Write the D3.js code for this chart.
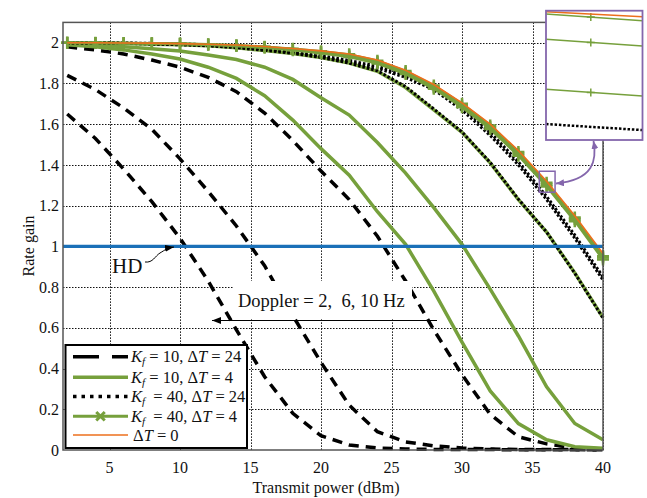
<!DOCTYPE html>
<html>
<head>
<meta charset="utf-8">
<script src="https://cdn.jsdelivr.net/npm/d3@7"></script>
<style>
  body { margin: 0; background: #fff; }
  svg text { font-family: "Liberation Serif", "Times New Roman", serif; fill: #111; white-space: pre; }
</style>
</head>
<body>
<svg id="chart" width="647" height="498"></svg>
<script>
// ---- data ----
const power = [2, 4, 6, 8, 10, 12, 14, 16, 18, 20, 22, 24, 26, 28, 30, 32, 34, 36, 38, 40];

// Kf = 10, dT = 24 (dashed), Doppler 10 / 6 / 2 Hz
const kf10dt24Dop10 = [1.65, 1.53, 1.38, 1.22, 1.04, 0.83, 0.59, 0.36, 0.18, 0.07, 0.025, 0.01, 0.005, 0.003, 0.002, 0.002, 0.001, 0.001, 0.001, 0.001];
const kf10dt24Dop6 = [1.84, 1.77, 1.68, 1.575, 1.43, 1.27, 1.10, 0.905, 0.66, 0.43, 0.22, 0.09, 0.04, 0.02, 0.01, 0.005, 0.003, 0.002, 0.002, 0.001];
const kf10dt24Dop2 = [1.98, 1.965, 1.945, 1.915, 1.88, 1.83, 1.76, 1.655, 1.52, 1.37, 1.23, 1.05, 0.83, 0.59, 0.37, 0.175, 0.065, 0.03, 0.01, 0.005];

// Kf = 10, dT = 4 (green solid)
const kf10dt4Dop10 = [1.99, 1.98, 1.965, 1.945, 1.92, 1.88, 1.825, 1.74, 1.62, 1.48, 1.35, 1.17, 1.01, 0.78, 0.53, 0.29, 0.13, 0.05, 0.016, 0.008];
const kf10dt4Dop6 = [1.995, 1.99, 1.98, 1.97, 1.96, 1.94, 1.918, 1.88, 1.82, 1.73, 1.645, 1.51, 1.36, 1.19, 1.01, 0.79, 0.56, 0.31, 0.13, 0.05];
const kf10dt4Dop2 = [1.999, 1.998, 1.996, 1.993, 1.99, 1.985, 1.975, 1.962, 1.947, 1.927, 1.90, 1.86, 1.78, 1.67, 1.56, 1.41, 1.23, 1.07, 0.87, 0.65];

// Kf = 40, dT = 24 (dotted)
const kf40dt24Dop10 = [2.0, 1.999, 1.997, 1.994, 1.99, 1.985, 1.976, 1.963, 1.948, 1.928, 1.90, 1.862, 1.785, 1.675, 1.562, 1.412, 1.232, 1.07, 0.868, 0.648];
const kf40dt24Dop6 = [2.0, 1.999, 1.998, 1.996, 1.993, 1.988, 1.98, 1.968, 1.952, 1.93, 1.905, 1.875, 1.83, 1.77, 1.67, 1.545, 1.40, 1.23, 1.04, 0.835];
const kf40dt24Dop2 = [2.0, 2.0, 1.999, 1.997, 1.995, 1.99, 1.983, 1.972, 1.957, 1.937, 1.913, 1.884, 1.842, 1.783, 1.685, 1.56, 1.415, 1.245, 1.055, 0.85];

// Kf = 40, dT = 4 (green with markers)
const kf40dt4Dop10 = [2.0, 1.999, 1.998, 1.996, 1.994, 1.99, 1.984, 1.975, 1.963, 1.948, 1.93, 1.898, 1.846, 1.774, 1.683, 1.576, 1.445, 1.294, 1.124, 0.935];
const kf40dt4Dop6 = [2.0, 1.999, 1.998, 1.997, 1.995, 1.992, 1.987, 1.979, 1.968, 1.955, 1.938, 1.906, 1.854, 1.782, 1.691, 1.585, 1.455, 1.303, 1.134, 0.945];
const kf40dt4Dop2 = [2.0, 2.0, 1.999, 1.998, 1.996, 1.993, 1.988, 1.981, 1.971, 1.958, 1.943, 1.912, 1.861, 1.79, 1.70, 1.594, 1.463, 1.312, 1.142, 0.952];

// dT = 0 (orange) and half duplex reference
const dt0 = [2.0, 2.0, 1.999, 1.998, 1.996, 1.993, 1.989, 1.982, 1.972, 1.96, 1.945, 1.915, 1.865, 1.795, 1.705, 1.60, 1.47, 1.32, 1.15, 0.965];
const halfDuplex = [1, 1];
const halfDuplexX = [1.7, 40];

// zoomed inset (schematic magnification around 36 dBm)
const insetX = [35.48, 36.6];
const insetYRange = [1.266, 1.369];
const insetDt0 = [1.3682, 1.3642];
const insetKf40dt4 = [[1.3664, 1.3610], [1.3462, 1.3409], [1.3064, 1.3010]];
const insetKf40dt24 = [1.2787, 1.2739];
const insetMarkerX = 36.0;

const xTicks = [5, 10, 15, 20, 25, 30, 35, 40];
const yTicks = [0, 0.2, 0.4, 0.6, 0.8, 1, 1.2, 1.4, 1.6, 1.8, 2];

// ---- colors ----
const GREEN = '#76a03c';
const ORANGE = '#ec6f1c';
const BLUE = '#1a70b8';
const PURPLE = '#8466ac';

const svg = d3.select('#chart');
const plotL = 63, plotR = 603, plotT = 22.4, plotB = 450;

const x = d3.scaleLinear().domain([1.7, 40]).range([plotL, plotR]);
const y = d3.scaleLinear().domain([0, 2.1]).range([plotB, plotT]);
const crisp = (v) => Math.round(v) + 0.5;

const defs = svg.append('defs');
function arrowHead(id, color, len, half) {
  defs.append('marker')
    .attr('id', id)
    .attr('viewBox', `0 ${-half} ${len} ${2 * half}`)
    .attr('refX', len)
    .attr('refY', 0)
    .attr('markerUnits', 'userSpaceOnUse')
    .attr('markerWidth', len)
    .attr('markerHeight', 2 * half)
    .attr('orient', 'auto-start-reverse')
    .append('path')
    .attr('d', `M0,${-half}L${len},0L0,${half}Z`)
    .attr('fill', color);
}
arrowHead('arrBlack', '#000', 9, 3.5);
arrowHead('arrPurple', PURPLE, 8, 3.5);

// Grid
const grid = svg.append('g')
  .attr('stroke', '#111')
  .attr('stroke-width', 1)
  .attr('stroke-dasharray', '1.5,1.5');
grid.selectAll('line.vx')
  .data(xTicks)
  .join('line')
  .attr('class', 'vx')
  .attr('x1', (d) => crisp(x(d))).attr('x2', (d) => crisp(x(d)))
  .attr('y1', plotT).attr('y2', plotB);
grid.selectAll('line.hy')
  .data(yTicks.slice(1))
  .join('line')
  .attr('class', 'hy')
  .attr('x1', plotL).attr('x2', plotR)
  .attr('y1', (d) => crisp(y(d))).attr('y2', (d) => crisp(y(d)));

// Tick labels
svg.append('g')
  .selectAll('text')
  .data(xTicks)
  .join('text')
  .attr('x', (d) => x(d))
  .attr('y', 473)
  .attr('text-anchor', 'middle')
  .attr('font-size', 16)
  .text((d) => d);
svg.append('g')
  .selectAll('text')
  .data(yTicks)
  .join('text')
  .attr('x', 59)
  .attr('y', (d) => y(d))
  .attr('dy', '0.35em')
  .attr('text-anchor', 'end')
  .attr('font-size', 16)
  .text((d) => d3.format('~g')(d));

svg.append('text')
  .attr('x', 326)
  .attr('y', 493)
  .attr('text-anchor', 'middle')
  .attr('font-size', 16)
  .text('Transmit power (dBm)');
svg.append('text')
  .attr('transform', 'translate(34,246) rotate(-90)')
  .attr('text-anchor', 'middle')
  .attr('font-size', 16)
  .text('Rate gain');

// Curves
const line = d3.line()
  .x((d) => x(d[0]))
  .y((d) => y(d[1]));
const pts = (vals) => power.map((p, i) => [p, vals[i]]);

const curves = svg.append('g').attr('fill', 'none');

[kf10dt24Dop10, kf10dt24Dop6, kf10dt24Dop2].forEach((vals) => {
  curves.append('path')
    .attr('d', line(pts(vals)))
    .attr('stroke', '#000')
    .attr('stroke-width', 3.5)
    .attr('stroke-dasharray', '10,7');
});

[kf10dt4Dop10, kf10dt4Dop6, kf10dt4Dop2].forEach((vals) => {
  curves.append('path')
    .attr('d', line(pts(vals)))
    .attr('stroke', GREEN)
    .attr('stroke-width', 3.5);
});

[kf40dt24Dop10, kf40dt24Dop6, kf40dt24Dop2].forEach((vals) => {
  curves.append('path')
    .attr('d', line(pts(vals)))
    .attr('stroke', '#000')
    .attr('stroke-width', 3)
    .attr('stroke-dasharray', '2.5,2');
});

const plus = (s) => `M${-s},0H${s}M0,${-s}V${s}`;
[kf40dt4Dop10, kf40dt4Dop6, kf40dt4Dop2].forEach((vals) => {
  curves.append('path')
    .attr('d', line(pts(vals)))
    .attr('stroke', GREEN)
    .attr('stroke-width', 2.5);
  curves.append('g')
    .selectAll('path')
    .data(pts(vals))
    .join('path')
    .attr('transform', (d) => `translate(${x(d[0])},${y(d[1])})`)
    .attr('d', plus(6))
    .attr('stroke', GREEN)
    .attr('stroke-width', 2.5);
});

curves.append('path')
  .attr('d', line(pts(dt0)))
  .attr('stroke', ORANGE)
  .attr('stroke-width', 1.6);

curves.append('path')
  .attr('d', line(halfDuplexX.map((p, i) => [p, halfDuplex[i]])))
  .attr('stroke', BLUE)
  .attr('stroke-width', 3.2);

// Axes box
svg.append('rect')
  .attr('x', plotL).attr('y', plotT)
  .attr('width', plotR - plotL).attr('height', plotB - plotT)
  .attr('fill', 'none')
  .attr('stroke', '#555')
  .attr('stroke-width', 1.5);

// Doppler annotation
svg.append('rect')
  .attr('x', 233).attr('y', 281)
  .attr('width', 179).attr('height', 37)
  .attr('fill', '#fff');
svg.append('text')
  .attr('x', 238)
  .attr('y', 307)
  .attr('font-size', 18.5)
  .text('Doppler = 2,  6, 10 Hz');
svg.append('line')
  .attr('x1', 437).attr('x2', 212)
  .attr('y1', 320.5).attr('y2', 320.5)
  .attr('stroke', '#000')
  .attr('stroke-width', 1.2)
  .attr('marker-end', 'url(#arrBlack)');

// HD annotation
svg.append('text')
  .attr('x', 112)
  .attr('y', 273)
  .attr('font-size', 21)
  .text('HD');
svg.append('path')
  .attr('d', 'M145,262 C153,263 155,256 160,253 S167,248 174,247')
  .attr('fill', 'none')
  .attr('stroke', '#000')
  .attr('stroke-width', 1)
  .attr('marker-end', 'url(#arrBlack)');

// Legend
const legend = svg.append('g');
legend.append('rect')
  .attr('x', 65.5).attr('y', 345)
  .attr('width', 181.5).attr('height', 103)
  .attr('fill', '#fff')
  .attr('stroke', '#000')
  .attr('stroke-width', 2);

const rowY = [356.7, 377.2, 396.5, 416.2, 435];
const lx1 = 73, lx2 = 128;

legend.append('line')
  .attr('x1', lx1).attr('x2', lx2).attr('y1', rowY[0]).attr('y2', rowY[0])
  .attr('stroke', '#000').attr('stroke-width', 3.5).attr('stroke-dasharray', '26,13');
legend.append('line')
  .attr('x1', lx1).attr('x2', lx2).attr('y1', rowY[1]).attr('y2', rowY[1])
  .attr('stroke', GREEN).attr('stroke-width', 3.5);
legend.append('line')
  .attr('x1', lx1).attr('x2', lx2).attr('y1', rowY[2]).attr('y2', rowY[2])
  .attr('stroke', '#000').attr('stroke-width', 3.5).attr('stroke-dasharray', '3.5,5');
legend.append('line')
  .attr('x1', lx1).attr('x2', lx2).attr('y1', rowY[3]).attr('y2', rowY[3])
  .attr('stroke', GREEN).attr('stroke-width', 3);
legend.append('path')
  .attr('transform', `translate(${(lx1 + lx2) / 2},${rowY[3]}) rotate(45)`)
  .attr('d', plus(6))
  .attr('stroke', GREEN).attr('stroke-width', 3);
legend.append('line')
  .attr('x1', lx1).attr('x2', lx2).attr('y1', rowY[4]).attr('y2', rowY[4])
  .attr('stroke', ORANGE).attr('stroke-width', 1.3);

function kfLabel(row, kf, dt, gap) {
  const label = legend.append('text')
    .attr('x', 131)
    .attr('y', rowY[row] + 5.5)
    .attr('font-size', 16.5);
  label.append('tspan').attr('font-style', 'italic').text('K');
  label.append('tspan').attr('font-style', 'italic').attr('font-size', 11).attr('dy', 3).text('f');
  label.append('tspan').attr('dy', -3).text(`${gap}= ${kf}, \u0394`);
  label.append('tspan').attr('font-style', 'italic').text('T');
  label.append('tspan').text(` = ${dt}`);
}
kfLabel(0, 10, 24, ' ');
kfLabel(1, 10, 4, ' ');
kfLabel(2, 40, 24, '  ');
kfLabel(3, 40, 4, '  ');
const dt0Label = legend.append('text')
  .attr('x', 133)
  .attr('y', rowY[4] + 5.5)
  .attr('font-size', 16.5);
dt0Label.append('tspan').text('\u0394');
dt0Label.append('tspan').attr('font-style', 'italic').text('T');
dt0Label.append('tspan').text(' = 0');

// Small box on the curves and the magnified inset
svg.append('rect')
  .attr('x', x(insetX[0])).attr('y', y(insetYRange[1]))
  .attr('width', x(insetX[1]) - x(insetX[0]))
  .attr('height', y(insetYRange[0]) - y(insetYRange[1]))
  .attr('fill', 'none')
  .attr('stroke', PURPLE)
  .attr('stroke-width', 1.5);

const ix = d3.scaleLinear().domain(insetX).range([546, 642.5]);
const iy = d3.scaleLinear().domain(insetYRange).range([140, 10.7]);
const inset = svg.append('g');
inset.append('rect')
  .attr('x', 546).attr('y', 10.7)
  .attr('width', 96.5).attr('height', 129.3)
  .attr('fill', '#fff');
const iline = d3.line().x((d) => ix(d[0])).y((d) => iy(d[1]));
const ipts = (vals) => insetX.map((p, i) => [p, vals[i]]);
const markerFrac = (insetMarkerX - insetX[0]) / (insetX[1] - insetX[0]);

inset.append('path')
  .attr('d', iline(ipts(insetKf40dt24)))
  .attr('fill', 'none')
  .attr('stroke', '#000')
  .attr('stroke-width', 2.5)
  .attr('stroke-dasharray', '2.5,1.8');
insetKf40dt4.forEach((vals) => {
  inset.append('path')
    .attr('d', iline(ipts(vals)))
    .attr('fill', 'none')
    .attr('stroke', GREEN)
    .attr('stroke-width', 1.6);
  inset.append('path')
    .attr('transform', `translate(${ix(insetMarkerX)},${iy(d3.interpolateNumber(vals[0], vals[1])(markerFrac))})`)
    .attr('d', plus(4))
    .attr('stroke', GREEN)
    .attr('stroke-width', 1.5);
});
inset.append('path')
  .attr('d', iline(ipts(insetDt0)))
  .attr('fill', 'none')
  .attr('stroke', ORANGE)
  .attr('stroke-width', 1.4);
inset.append('rect')
  .attr('x', 546).attr('y', 10.7)
  .attr('width', 96.5).attr('height', 129.3)
  .attr('fill', 'none')
  .attr('stroke', PURPLE)
  .attr('stroke-width', 1.8);

svg.append('path')
  .attr('d', 'M593.5,141 C597,160 594,180 556,183.5')
  .attr('fill', 'none')
  .attr('stroke', PURPLE)
  .attr('stroke-width', 1.8)
  .attr('marker-start', 'url(#arrPurple)')
  .attr('marker-end', 'url(#arrPurple)');
</script>
</body>
</html>
